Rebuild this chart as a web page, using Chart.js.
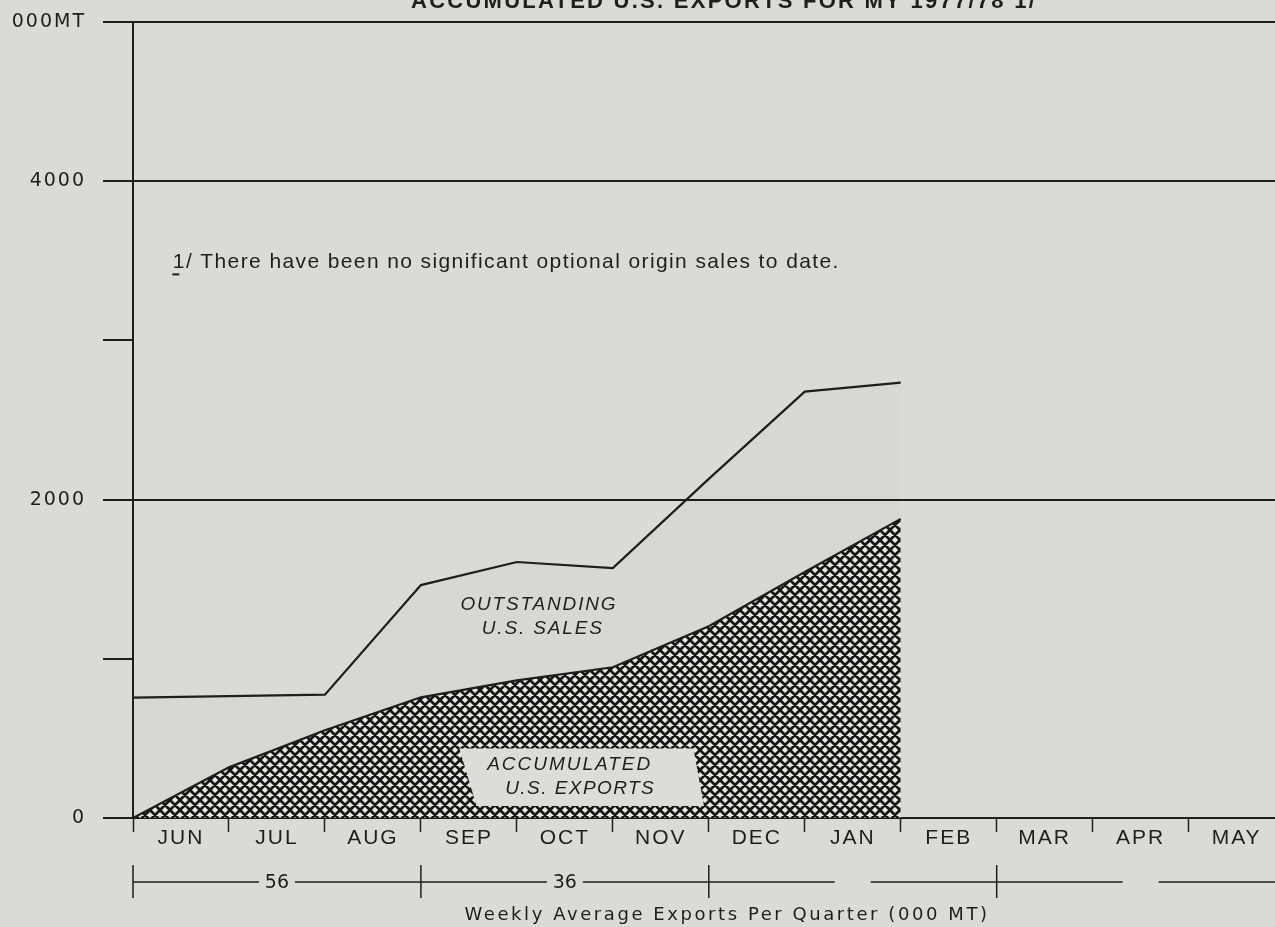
<!DOCTYPE html>
<html>
<head>
<meta charset="utf-8">
<script src="https://cdn.jsdelivr.net/npm/chart.js@4.4.1/dist/chart.umd.min.js"></script>
<style>
  html, body { margin: 0; padding: 0; background: #dbdad5; }
  canvas { display: block; }
</style>
</head>
<body>
<canvas id="chart" width="1275" height="927"></canvas>
<script>
// ── Data ──────────────────────────────────────────────────────────────────
const months = ['JUN', 'JUL', 'AUG', 'SEP', 'OCT', 'NOV', 'DEC', 'JAN', 'FEB', 'MAR', 'APR', 'MAY'];
// month-end positions (0 = start of June)
const monthEnds = [0, 1, 2, 3, 4, 5, 6, 7, 8];
const exportsAcc = [0, 318, 551, 758, 865, 947, 1205, 1545, 1879];
const salesTotal = [756, 765, 775, 1463, 1608, 1570, 2130, 2678, 2735];
const yTicks = [0, 1000, 2000, 3000, 4000, 5000];
const yLabels = { 0: '0', 2000: '2000', 4000: '4000', 5000: '000MT' };
const quarterStarts = [0, 3, 6, 9];
const quarterAvg = ['56', '36', '', ''];

const INK = '#1e1e1e';
const BG = '#dbdad5';
const SANS = "'Liberation Sans', Arial, sans-serif";
const WIDE = "'DejaVu Sans', sans-serif";

// ── Crosshatch fill for accumulated exports ───────────────────────────────
function makeHatch() {
    const s = 10;
    const c = document.createElement('canvas');
    c.width = c.height = s;
    const g = c.getContext('2d');
    g.fillStyle = '#e8e7e2';
    g.fillRect(0, 0, s, s);
    g.strokeStyle = '#161616';
    g.lineWidth = 2.7;
    g.beginPath();
    for (let k = -s; k <= s; k += s) {
        g.moveTo(k - 2, -2); g.lineTo(k + s + 2, s + 2);
        g.moveTo(k - 2, s + 2); g.lineTo(k + s + 2, -2);
    }
    g.stroke();
    return g.createPattern(c, 'repeat');
}

// text stretched / squeezed to a target width, centred on cx
function fitText(ctx, text, cx, y, width) {
    ctx.letterSpacing = '0px';
    ctx.textAlign = 'left';
    const w0 = ctx.measureText(text).width;
    if (width >= w0) {
        ctx.letterSpacing = ((width - w0) / text.length) + 'px';
        ctx.fillText(text, cx - width / 2, y);
    } else {
        ctx.save();
        ctx.translate(cx - width / 2, y);
        ctx.scale(width / w0, 1);
        ctx.fillText(text, 0, 0);
        ctx.restore();
    }
    ctx.letterSpacing = '0px';
}

const paperPlugin = {
    id: 'paper',
    beforeDraw(chart) {
        const ctx = chart.ctx;
        ctx.save();
        ctx.fillStyle = BG;
        ctx.fillRect(0, 0, chart.width, chart.height);
        ctx.restore();
        ctx.letterSpacing = '2px';   // wide spacing for tick labels
    },
    afterDatasetsDraw(chart) {
        const { ctx, scales: { x, y } } = chart;
        ctx.save();
        // light label box cut into the hatching
        ctx.fillStyle = '#dedcd7';
        ctx.beginPath();
        ctx.moveTo(x.getPixelForValue(3.40), y.getPixelForValue(437));
        ctx.lineTo(x.getPixelForValue(5.84), y.getPixelForValue(437));
        ctx.lineTo(x.getPixelForValue(5.95), y.getPixelForValue(75));
        ctx.lineTo(x.getPixelForValue(3.58), y.getPixelForValue(75));
        ctx.closePath();
        ctx.fill();

        ctx.fillStyle = INK;
        ctx.textBaseline = 'middle';
        ctx.font = `italic 19px ${SANS}`;
        fitText(ctx, 'OUTSTANDING', x.getPixelForValue(4.23), y.getPixelForValue(1337), 157);
        fitText(ctx, 'U.S. SALES', x.getPixelForValue(4.27), y.getPixelForValue(1186), 122);
        fitText(ctx, 'ACCUMULATED', x.getPixelForValue(4.55), y.getPixelForValue(337), 165);
        fitText(ctx, 'U.S. EXPORTS', x.getPixelForValue(4.66), y.getPixelForValue(186), 150);
        ctx.restore();
    },
    afterDraw(chart) {
        const { ctx, scales: { x, y }, chartArea } = chart;
        ctx.save();
        ctx.letterSpacing = '0px';
        ctx.fillStyle = INK;
        ctx.strokeStyle = INK;

        // title (cut off at the top edge)
        ctx.font = `bold 22px ${SANS}`;
        ctx.textBaseline = 'alphabetic';
        fitText(ctx, 'ACCUMULATED U.S. EXPORTS FOR MY 1977/78 1/', 724, 8, 626);

        // footnote
        ctx.font = `21px ${SANS}`;
        ctx.textBaseline = 'middle';
        const fx = x.getPixelForValue(0.42), fy = y.getPixelForValue(3490);
        fitText(ctx, '1/ There have been no significant optional origin sales to date.', fx + 333, fy, 667);
        ctx.lineWidth = 2;
        ctx.beginPath();
        ctx.moveTo(fx - 1, fy + 12); ctx.lineTo(fx + 6, fy + 12);
        ctx.stroke();

        // quarterly weekly-average bracket row
        const rowY = chartArea.bottom + 64;
        ctx.lineWidth = 1.5;
        quarterStarts.forEach((q, i) => {
            const x0 = x.getPixelForValue(q);
            const x1 = Math.min(x.getPixelForValue(q + 3), chart.width);
            const cx = x.getPixelForValue(q + 1.5);
            ctx.beginPath();
            ctx.moveTo(x0, rowY - 17); ctx.lineTo(x0, rowY + 16);
            ctx.moveTo(x0, rowY); ctx.lineTo(cx - 18, rowY);
            ctx.moveTo(cx + 18, rowY); ctx.lineTo(x1, rowY);
            ctx.stroke();
            if (quarterAvg[i]) {
                ctx.font = `19px ${WIDE}`;
                ctx.textAlign = 'center';
                ctx.fillText(quarterAvg[i], cx, rowY + 1);
            }
        });

        ctx.font = `18px ${WIDE}`;
        fitText(ctx, 'Weekly Average Exports Per Quarter (000 MT)', x.getPixelForValue(6.19), chartArea.bottom + 97, 525);
        ctx.restore();
    }
};

new Chart(document.getElementById('chart'), {
    type: 'line',
    data: {
        datasets: [
            {
                label: 'Accumulated U.S. Exports',
                data: monthEnds.map((m, i) => ({ x: m, y: exportsAcc[i] })),
                borderColor: INK, borderWidth: 2.2, pointRadius: 0, tension: 0,
                fill: 'origin', backgroundColor: makeHatch()
            },
            {
                label: 'Outstanding U.S. Sales',
                data: monthEnds.map((m, i) => ({ x: m, y: salesTotal[i] })),
                borderColor: INK, borderWidth: 2.2, pointRadius: 0, tension: 0,
                fill: '-1', backgroundColor: 'rgba(0,0,0,0.012)'
            }
        ]
    },
    options: {
        responsive: false, animation: false,
        layout: { padding: { top: 22, left: 0, right: 0, bottom: 0 } },
        plugins: { legend: { display: false }, tooltip: { enabled: false } },
        scales: {
            x: {
                type: 'linear', min: 0, max: 11.9,
                afterBuildTicks: s => { s.ticks = months.map((m, i) => ({ value: i })); },
                afterFit: s => { s.height = 109; s.paddingLeft = 0; s.paddingRight = 0; },
                border: { display: true, color: INK, width: 2 },
                grid: { drawOnChartArea: false, tickLength: 14, tickColor: INK, tickWidth: 1.5 },
                ticks: {
                    autoSkip: false, maxRotation: 0, labelOffset: 48, padding: -4,
                    color: INK, font: { family: SANS, size: 21, lineHeight: 1 },
                    callback: (v, i) => months[i]
                }
            },
            y: {
                min: 0, max: 5000,
                afterBuildTicks: s => { s.ticks = yTicks.map(v => ({ value: v })); },
                afterFit: s => { s.width = 133; s.paddingTop = 0; s.paddingBottom = 0; },
                border: { display: true, color: INK, width: 2 },
                grid: {
                    color: c => (c.tick && c.tick.value % 2000 === 0) || (c.tick && c.tick.value === 5000) ? INK : 'rgba(0,0,0,0)',
                    lineWidth: 2, tickLength: 30, tickColor: INK, tickWidth: 2
                },
                ticks: {
                    padding: 17, color: INK, font: { family: WIDE, size: 19 },
                    callback: v => yLabels[v] !== undefined ? yLabels[v] : ''
                }
            }
        }
    },
    plugins: [paperPlugin]
});
</script>
</body>
</html>
